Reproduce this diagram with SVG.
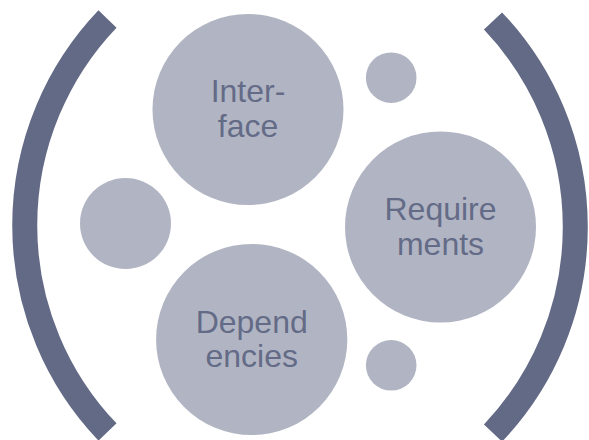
<svg xmlns="http://www.w3.org/2000/svg" width="589" height="440" viewBox="0 0 589 440">
<style>
.bub{fill:#b1b5c3;}
.arc{fill:none;stroke:#636a85;stroke-width:25;stroke-linecap:butt;}
.lbl{font-family:"Liberation Sans",Arial,sans-serif;font-size:32px;fill:#646b87;text-anchor:middle;}
</style>
<rect width="589" height="440" fill="#ffffff"/>
<g id="brackets">
<path class="arc" d="M 107.5 19 A 299 299 0 0 0 107.5 432"/>
<path class="arc" d="M 493 21 A 299 299 0 0 1 493 433"/>
</g>
<g id="small-left"><circle class="bub" cx="125.5" cy="223.5" r="45.5"/></g>
<g id="small-top-right"><circle class="bub" cx="391.2" cy="77.7" r="25.3"/></g>
<g id="small-bottom-right"><circle class="bub" cx="391.2" cy="365.3" r="25.3"/></g>
<g id="interface">
<circle class="bub" cx="248" cy="109.5" r="95.5"/>
<text class="lbl" x="248" y="101.7">Inter-</text>
<text class="lbl" x="248" y="136.7">face</text>
</g>
<g id="requirements">
<circle class="bub" cx="440.5" cy="227" r="95.5"/>
<text class="lbl" x="440.5" y="220">Require</text>
<text class="lbl" x="440.5" y="254.5">ments</text>
</g>
<g id="dependencies">
<circle class="bub" cx="251.7" cy="339.5" r="95.6"/>
<text class="lbl" x="251.7" y="333.3">Depend</text>
<text class="lbl" x="251.7" y="367">encies</text>
</g>
</svg>
